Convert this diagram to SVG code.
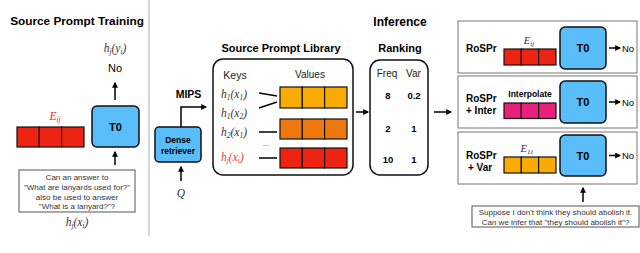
<svg xmlns="http://www.w3.org/2000/svg" width="640" height="253" viewBox="0 0 640 253">
<style>
.t{font-family:"Liberation Sans",Arial,sans-serif;fill:#000}
.b{font-weight:bold}
.m{font-family:"Liberation Serif","Times New Roman",serif;font-style:italic;fill:#333}
.t0{fill:#58bdf8;stroke:#111;stroke-width:1.5}
.cell{stroke:#111;stroke-width:1.2}
.red{fill:#ee2412}
.yel{fill:#f9ab00}
.org{fill:#ee780e}
.pink{fill:#e9207c}
.arr{fill:none;stroke:#000;stroke-width:1.5}
.panel{fill:#fff;stroke:#777;stroke-width:1}
.qbox{fill:#fff;stroke:#555;stroke-width:1}
.q{font-family:"Liberation Sans",Arial,sans-serif;font-size:8px;fill:#333}
</style>
<defs>
<marker id="ah" viewBox="0 0 10 10" refX="8" refY="5" markerWidth="4" markerHeight="4" orient="auto">
<path d="M0,0 L10,5 L0,10 z" fill="#000"/>
</marker>
</defs>
<rect width="640" height="253" fill="#fff"/>
<line x1="149" y1="0" x2="149" y2="236" stroke="#aaa" stroke-width="1"/>

<!-- Left: Source Prompt Training -->
<g id="training">
<text class="t b" x="77" y="25" font-size="11.8" text-anchor="middle">Source Prompt Training</text>
<text class="m" x="115" y="52" font-size="11.5" text-anchor="middle">h<tspan font-size="7.5" dy="2">j</tspan><tspan dy="-2">(y</tspan><tspan font-size="7.5" dy="2">i</tspan><tspan dy="-2">)</tspan></text>
<text class="t" x="115" y="72" font-size="11" text-anchor="middle">No</text>
<text class="m" x="55" y="120" font-size="11.5" text-anchor="middle" style="fill:#ee2412">E<tspan font-size="7.5" dy="2">ij</tspan></text>
<g>
<rect class="cell red" x="17" y="127" width="22.3" height="20"/>
<rect class="cell red" x="39.3" y="127" width="22.3" height="20"/>
<rect class="cell red" x="61.6" y="127" width="22.4" height="20"/>
</g>
</g>
<g id="t0-train">
<rect class="t0" x="92" y="106" width="47" height="41" rx="5"/>
<text class="t b" x="115.5" y="131" font-size="11" text-anchor="middle">T0</text>
</g>
<g id="qbox-train">
<rect class="qbox" x="19" y="170" width="116" height="42"/>
<text class="q" x="77" y="180" text-anchor="middle">Can an answer to</text>
<text class="q" x="77" y="190" text-anchor="middle">"What are lanyards used for?"</text>
<text class="q" x="77" y="199.5" text-anchor="middle">also be used to answer</text>
<text class="q" x="77" y="209" text-anchor="middle">"What is a lanyard?"?</text>
<text class="m" x="77" y="226" font-size="11.5" text-anchor="middle">h<tspan font-size="7.5" dy="2">j</tspan><tspan dy="-2">(x</tspan><tspan font-size="7.5" dy="2">i</tspan><tspan dy="-2">)</tspan></text>
</g>

<!-- Middle: library -->
<g id="library">
<text class="t b" x="281" y="52" font-size="11" text-anchor="middle">Source Prompt Library</text>
<rect x="213" y="59" width="140" height="116" rx="10" fill="#fff" stroke="#111" stroke-width="1.5"/>
<text class="t" x="235" y="79" font-size="10.5" text-anchor="middle" style="fill:#222">Keys</text>
<text class="t" x="310" y="78" font-size="10" text-anchor="middle" style="fill:#222">Values</text>
<text class="m" x="221" y="98" font-size="11.5">h<tspan font-size="7.5" dy="2">1</tspan><tspan dy="-2">(x</tspan><tspan font-size="7.5" dy="2">1</tspan><tspan dy="-2">)</tspan></text>
<text class="m" x="221" y="117" font-size="11.5">h<tspan font-size="7.5" dy="2">1</tspan><tspan dy="-2">(x</tspan><tspan font-size="7.5" dy="2">2</tspan><tspan dy="-2">)</tspan></text>
<text class="m" x="221" y="136" font-size="11.5">h<tspan font-size="7.5" dy="2">2</tspan><tspan dy="-2">(x</tspan><tspan font-size="7.5" dy="2">1</tspan><tspan dy="-2">)</tspan></text>
<text class="m" x="221" y="161" font-size="11.5" style="fill:#ee3a2a">h<tspan font-size="7.5" dy="2">j</tspan><tspan dy="-2">(x</tspan><tspan font-size="7.5" dy="2">i</tspan><tspan dy="-2">)</tspan></text>
<text class="t" x="266" y="146" font-size="8" text-anchor="middle" style="fill:#444">...</text>
<g>
<rect class="cell yel" x="280" y="87" width="22.3" height="21"/>
<rect class="cell yel" x="302.3" y="87" width="22.3" height="21"/>
<rect class="cell yel" x="324.6" y="87" width="22.4" height="21"/>
<rect class="cell org" x="280" y="119" width="22.3" height="20"/>
<rect class="cell org" x="302.3" y="119" width="22.3" height="20"/>
<rect class="cell org" x="324.6" y="119" width="22.4" height="20"/>
<rect class="cell red" x="280" y="148" width="22.3" height="20"/>
<rect class="cell red" x="302.3" y="148" width="22.3" height="20"/>
<rect class="cell red" x="324.6" y="148" width="22.4" height="20"/>
</g>
</g>
<g id="retriever">
<rect class="t0" x="155" y="127" width="46" height="35" rx="4"/>
<text class="t b" x="178" y="142.5" font-size="8.5" text-anchor="middle">Dense</text>
<text class="t b" x="178" y="154" font-size="8.5" text-anchor="middle">retriever</text>
<text class="t b" x="188.5" y="98" font-size="10.5" text-anchor="middle">MIPS</text>
<text class="m" x="181" y="197" font-size="11.5" text-anchor="middle">Q</text>
</g>

<!-- Ranking -->
<g id="ranking">
<text class="t b" x="400" y="26" font-size="12" text-anchor="middle">Inference</text>
<text class="t b" x="400" y="52" font-size="11" text-anchor="middle">Ranking</text>
<rect x="370" y="60" width="58" height="115" rx="10" fill="#fff" stroke="#111" stroke-width="1.5"/>
<text class="t" x="387" y="77" font-size="10" text-anchor="middle" style="fill:#222">Freq</text>
<text class="t" x="413.5" y="77" font-size="10" text-anchor="middle" style="fill:#222">Var</text>
<text class="t b" x="388" y="99" font-size="9.5" text-anchor="middle">8</text>
<text class="t b" x="414" y="99" font-size="9.5" text-anchor="middle">0.2</text>
<text class="t b" x="388" y="132" font-size="9.5" text-anchor="middle">2</text>
<text class="t b" x="414" y="132" font-size="9.5" text-anchor="middle">1</text>
<text class="t b" x="388" y="163" font-size="9.5" text-anchor="middle">10</text>
<text class="t b" x="414" y="163" font-size="9.5" text-anchor="middle">1</text>
</g>

<!-- Right panels -->
<g id="panel-rospr">
<rect class="panel" x="458" y="21" width="179" height="52"/>
<text class="t b" x="466" y="51.5" font-size="10">RoSPr</text>
<text class="m" x="529" y="44" font-size="10.5" text-anchor="middle">E<tspan font-size="7" dy="2">ij</tspan></text>
<rect class="cell red" x="504" y="49" width="17.3" height="16"/>
<rect class="cell red" x="521.3" y="49" width="17.3" height="16"/>
<rect class="cell red" x="538.6" y="49" width="17.4" height="16"/>
<rect class="t0" x="560" y="27" width="46" height="42" rx="5"/>
<text class="t b" x="583" y="52" font-size="11" text-anchor="middle">T0</text>
<text class="t" x="622" y="51.5" font-size="9.5">No</text>
</g>
<g id="panel-inter">
<rect class="panel" x="458" y="76" width="179" height="52"/>
<text class="t b" x="466" y="101.5" font-size="10">RoSPr</text>
<text class="t b" x="466" y="113.5" font-size="10">+ Inter</text>
<text class="t b" x="530" y="97" font-size="8.5" text-anchor="middle">Interpolate</text>
<rect class="cell pink" x="504" y="103" width="17.3" height="15.5"/>
<rect class="cell pink" x="521.3" y="103" width="17.3" height="15.5"/>
<rect class="cell pink" x="538.6" y="103" width="17.4" height="15.5"/>
<rect class="t0" x="560" y="81" width="46" height="42" rx="5"/>
<text class="t b" x="583" y="106" font-size="11" text-anchor="middle">T0</text>
<text class="t" x="622" y="105.5" font-size="9.5">No</text>
</g>
<g id="panel-var">
<rect class="panel" x="458" y="132" width="179" height="52"/>
<text class="t b" x="466" y="158.5" font-size="10">RoSPr</text>
<text class="t b" x="468" y="170.5" font-size="10">+ Var</text>
<text class="m" x="527" y="152" font-size="10.5" text-anchor="middle">E<tspan font-size="7" dy="2">11</tspan></text>
<rect class="cell yel" x="504" y="157" width="17.3" height="16"/>
<rect class="cell yel" x="521.3" y="157" width="17.3" height="16"/>
<rect class="cell yel" x="538.6" y="157" width="17.4" height="16"/>
<rect class="t0" x="560" y="135" width="46" height="41" rx="5"/>
<text class="t b" x="583" y="159.5" font-size="11" text-anchor="middle">T0</text>
<text class="t" x="622" y="159" font-size="9.5">No</text>
</g>
<g id="qbox-inference">
<rect class="qbox" x="472" y="206" width="167" height="21"/>
<text class="q" x="555.5" y="214.5" text-anchor="middle">Suppose I don't think they should abolish it.</text>
<text class="q" x="555.5" y="224.5" text-anchor="middle">Can we infer that "they should abolish it"?</text>
</g>

<!-- Connectors -->
<g id="connectors">
<path class="arr" d="M115 100 V83" marker-end="url(#ah)"/>
<path class="arr" d="M115 165 V152" marker-end="url(#ah)"/>
<path class="arr" d="M181 127 V107 H206" marker-end="url(#ah)"/>
<path class="arr" d="M181 181 V167" marker-end="url(#ah)"/>
<path class="arr" d="M259 93 L277 96" stroke-width="1.3"/>
<path class="arr" d="M259 108 L277 102" stroke-width="1.3"/>
<path class="arr" d="M259 132 H277" stroke-width="1.3"/>
<path class="arr" d="M259 158 H277" stroke-width="1.3"/>
<path class="arr" d="M356 112 H368" marker-end="url(#ah)"/>
<path class="arr" d="M434 112 H451" marker-end="url(#ah)"/>
<path class="arr" d="M609 48 H620" marker-end="url(#ah)"/>
<path class="arr" d="M609 102 H620" marker-end="url(#ah)"/>
<path class="arr" d="M609 155.5 H620" marker-end="url(#ah)"/>
<path class="arr" d="M583 202 V188" marker-end="url(#ah)"/>
</g>
</svg>
